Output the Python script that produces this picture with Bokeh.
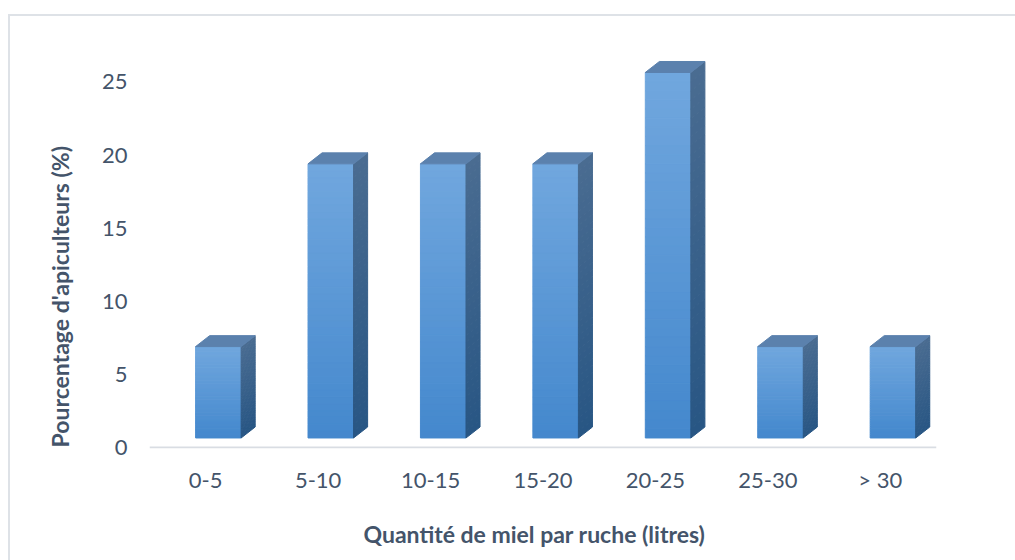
import numpy as np
from bokeh.plotting import figure
from bokeh.models import Range1d, FixedTicker, InlineStyleSheet, Title
from bokeh.embed import file_html
from bokeh.resources import INLINE

# Honey yield per hive, share of beekeepers in each class
categories = ["0-5", "5-10", "10-15", "15-20", "20-25", "25-30", "> 30"]
percent = [6.25, 18.75, 18.75, 18.75, 25.0, 6.25, 6.25]
y_ticks = [0, 5, 10, 15, 20, 25]

TEXT = "#44546A"
FONT = "Lato"
RULE = "#D9DDE3"

p = figure(
    width=1015, height=560,
    x_range=Range1d(0, len(categories)), y_range=Range1d(-0.07, 28.52),
    output_backend="svg", toolbar_location=None,
    min_border_left=149, min_border_right=79,
    min_border_top=30, min_border_bottom=112,
)
p.outline_line_color = None
p.background_fill_color = "white"
p.border_fill_color = None
p.grid.visible = False

# light frame around the chart area, painted behind the canvas
p.stylesheets = [InlineStyleSheet(css=(
    ":host { background:"
    " linear-gradient(#DEE2E7,#DEE2E7) 9px 14px / 1006px 2px no-repeat,"
    " linear-gradient(#DEE2E7,#DEE2E7) 8px 14px / 2px 546px no-repeat,"
    " #ffffff; }"
))]

# 3D column geometry, in axis units
FRONT_OFF = 0.41
FRONT_W = 0.405
DEPTH_X = 0.125
DEPTH_Y = 0.75
FLOOR = 0.65
STEPS = 40

FRONT_TOP = (113, 167, 222)
FRONT_BOT = (68, 136, 205)
SIDE_TOP = (74, 108, 145)
SIDE_BOT = (40, 86, 132)
LID = "#5B81AD"


def mix(c0, c1, t):
    return "#%02x%02x%02x" % tuple(int(round(a + (b - a) * t)) for a, b in zip(c0, c1))


fl, fr, fb, ft, fc = [], [], [], [], []
sxs, sys_, sc = [], [], []
lxs, lys = [], []
for i, v in enumerate(percent):
    xl = i + FRONT_OFF
    xr = xl + FRONT_W
    yb = FLOOR
    yt = FLOOR + v
    h = yt - yb
    for k in range(STEPS):
        top = yt - h * k / STEPS
        bot = yt - h * (k + 1) / STEPS
        t = (k + 0.5) / STEPS
        fl.append(xl); fr.append(xr); fb.append(bot); ft.append(top)
        fc.append(mix(FRONT_TOP, FRONT_BOT, t))
        sxs.append([xr, xr + DEPTH_X, xr + DEPTH_X, xr])
        sys_.append([bot, bot + DEPTH_Y, top + DEPTH_Y, top])
        sc.append(mix(SIDE_TOP, SIDE_BOT, t))
    lxs.append([xl, xr, xr + DEPTH_X, xl + DEPTH_X])
    lys.append([yt, yt, yt + DEPTH_Y, yt + DEPTH_Y])

# category axis rule
p.hspan(y=[0], line_color=RULE, line_width=2)

p.quad(left=fl, right=fr, bottom=fb, top=ft, fill_color=fc, line_color=fc, line_width=1)
p.patches(xs=sxs, ys=sys_, fill_color=sc, line_color=sc, line_width=1)
p.patches(xs=lxs, ys=lys, fill_color=LID, line_color=LID, line_width=1)

# Axes
xa = p.xaxis[0]
xa.ticker = FixedTicker(ticks=[i + 0.5 for i in range(len(categories))])
xa.major_label_overrides = {i + 0.5: c for i, c in enumerate(categories)}
xa.axis_line_color = None
xa.major_tick_line_color = None
xa.minor_tick_line_color = None
xa.major_tick_out = 0
xa.major_tick_in = 0
xa.major_label_standoff = 17
xa.major_label_text_font = FONT
xa.major_label_text_font_size = "22px"
xa.major_label_text_color = TEXT

ya = p.yaxis[0]
ya.ticker = FixedTicker(ticks=y_ticks)
ya.axis_line_color = None
ya.major_tick_line_color = None
ya.minor_tick_line_color = None
ya.major_tick_out = 0
ya.major_tick_in = 0
ya.major_label_standoff = 22
ya.major_label_text_font = FONT
ya.major_label_text_font_size = "22px"
ya.major_label_text_color = TEXT

# Axis titles (a blank title keeps a gap under the category labels)
p.add_layout(Title(text=" ", text_font_size="1px", standoff=14), "below")
p.add_layout(Title(
    text="Quantité de miel par ruche (litres)", align="left", offset=214, standoff=10,
    text_font=FONT, text_font_style="bold", text_font_size="23px", text_color=TEXT,
), "below")
p.add_layout(Title(
    text="Pourcentage d'apiculteurs (%)", align="left", offset=1, standoff=50,
    text_font=FONT, text_font_style="bold", text_font_size="23px", text_color=TEXT,
), "left")

open("out.html", "w").write(file_html(p, INLINE))
